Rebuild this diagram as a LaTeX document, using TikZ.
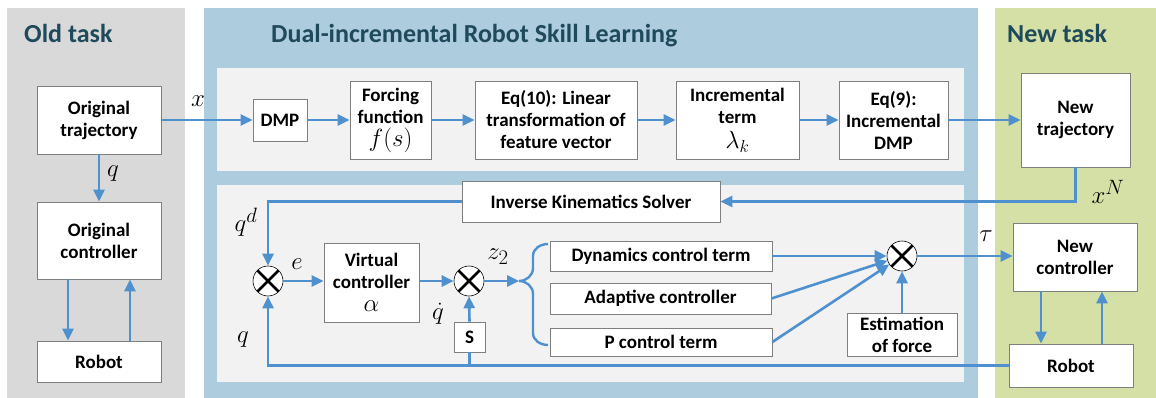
\documentclass[tikz,border=0pt]{standalone}
\usepackage{fontspec}
\setmainfont{Carlito}
\usetikzlibrary{arrows.meta}
\definecolor{oldbg}{HTML}{D9D9D9}
\definecolor{bluebg}{HTML}{ADCDDF}
\definecolor{greenbg}{HTML}{D4E0A5}
\definecolor{innerbg}{HTML}{F2F2F2}
\definecolor{arrowc}{HTML}{4F90CF}
\definecolor{boxline}{HTML}{7F7F7F}
\definecolor{headc}{HTML}{1F4A5B}
\begin{document}
\begin{tikzpicture}[x=1pt,y=-1pt,
  box/.style={draw=boxline, fill=white, line width=0.8pt, align=center, font=\fontsize{19}{22}\selectfont\bfseries, inner sep=0pt},
  sum/.style={circle, draw=black, fill=white, line width=0.6pt, minimum size=30pt, inner sep=0pt,
    path picture={\draw[line width=2.6pt]
      ([shift={(-11pt,-11pt)}]path picture bounding box.center) -- ([shift={(11pt,11pt)}]path picture bounding box.center)
      ([shift={(-11pt,11pt)}]path picture bounding box.center) -- ([shift={(11pt,-11pt)}]path picture bounding box.center);}},
  flow/.style={draw=arrowc, line width=2.6pt, -{Triangle[length=12pt,width=11pt]}},
  plainline/.style={draw=arrowc, line width=2.6pt},
  lbl/.style={font=\fontsize{28}{32}\selectfont, inner sep=0pt},
  head/.style={font=\fontsize{26}{30}\selectfont\bfseries, text=headc, inner sep=0pt, anchor=base west}
]
\useasboundingbox (0,0) rectangle (1156,398);
\fill[white] (0,0) rectangle (1156,398);
% panels
\fill[oldbg] (7,8) rectangle (185,398);
\fill[bluebg] (204,8) rectangle (978,398);
\fill[greenbg] (995,8) rectangle (1156,398);
\fill[innerbg] (217,68) rectangle (964,171);
\fill[innerbg] (217,185) rectangle (964,382);
% headings
\node[head] (h1) at (24,43) {Old task};
\node[head] (h2) at (271,43) {Dual-incremental Robot Skill Learning};
\node[head] (h3) at (1007,43) {New task};
% old task boxes
\node[box, minimum width=124pt, minimum height=68pt] (otraj) at (99,120) {Original\\trajectory};
\node[box, minimum width=124pt, minimum height=77pt] (octrl) at (99,240.5) {Original\\controller};
\node[box, minimum width=124pt, minimum height=41pt] (orobot) at (99,361.5) {Robot};
% top row
\node[box, minimum width=54pt, minimum height=42pt] (dmp) at (280,120) {DMP};
\node[box, minimum width=81pt, minimum height=78pt] (force) at (390.5,120) {Forcing\\function\\[1pt]{\fontsize{24}{24}\selectfont$f(s)$}};
\node[box, minimum width=162pt, minimum height=78pt] (eq10) at (556,120) {Eq(10): Linear\\transformation of\\feature vector};
\node[box, minimum width=123pt, minimum height=78pt] (incr) at (737.5,120) {Incremental\\term\\[3pt]{\fontsize{26}{26}\selectfont$\lambda_k$}};
\node[box, minimum width=109pt, minimum height=78pt] (eq9) at (893.5,120) {Eq(9):\\Incremental\\DMP};
\node[box, minimum width=109pt, minimum height=94pt] (ntraj) at (1075.5,120) {New\\trajectory};
% bottom area
\node[box, minimum width=258pt, minimum height=41pt] (ik) at (591,201.5) {Inverse Kinematics Solver};
\node[sum] (sum1) at (268,281) {};
\node[box, minimum width=95pt, minimum height=79pt] (vc) at (371.5,282.5) {Virtual\\controller\\[1pt]{\fontsize{28}{28}\selectfont$\alpha$}};
\node[sum] (sum2) at (469,281) {};
\node[box, minimum width=31pt, minimum height=30pt] (sbox) at (469.5,337) {S};
\node[box, minimum width=222pt, minimum height=30pt] (dyn) at (661,256) {Dynamics control term};
\node[box, minimum width=221pt, minimum height=31pt] (adap) at (660.5,298.5) {Adaptive controller};
\node[box, minimum width=222pt, minimum height=28pt] (pct) at (661,342) {P control term};
\node[sum] (sum3) at (902,256) {};
\node[box, minimum width=110pt, minimum height=43pt] (est) at (902,334.5) {Estimation\\of force};
\node[box, minimum width=124pt, minimum height=68pt] (nctrl) at (1075,257) {New\\controller};
\node[box, minimum width=124pt, minimum height=43pt] (nrobot) at (1071,365.5) {Robot};
\coordinate (btip) at (519,281);
% connectors
\draw[flow] (otraj.east) -- (dmp.west);
\draw[flow] (otraj.south) -- (octrl.north);
\draw[flow] ([xshift=-31pt]octrl.south) -- ([xshift=-31pt]octrl.south |- orobot.north);
\draw[flow] ([xshift=31pt]octrl.south |- orobot.north) -- ([xshift=31pt]octrl.south);
\draw[flow] (dmp.east) -- (force.west);
\draw[flow] (force.east) -- (eq10.west);
\draw[flow] (eq10.east) -- (incr.west);
\draw[flow] (incr.east) -- (eq9.west);
\draw[flow] (eq9.east) -- (ntraj.west);
\draw[flow] (ntraj.south) |- (ik.east);
\draw[flow] (ik.west) -| (sum1.north);
\draw[flow] (sum1.east) -- (sum1.east -| vc.west);
\draw[flow] (sum2.west -| vc.east) -- (sum2.west);
\draw[flow] (sbox.north) -- (sum2.south);
\draw[flow] (sum2.east) -- (btip);
\draw[plainline, line width=2.4pt] (548,244) to[out=180,in=90] (533,256) -- (533,268) to[out=-90,in=0] (btip)
  to[out=0,in=90] (533,294) -- (533,333) to[out=-90,in=180] (548,345);
\draw[flow] (dyn.east) -- (sum3);
\draw[flow] (adap.east) -- (sum3);
\draw[flow] (pct.east) -- (sum3);
\draw[flow] (est.north) -- (sum3.south);
\draw[flow] (sum3.east) -- (sum3.east -| nctrl.west);
\draw[flow] ([xshift=-34pt]nctrl.south) -- ([xshift=-34pt]nctrl.south |- nrobot.north);
\draw[flow] ([xshift=27pt]nctrl.south |- nrobot.north) -- ([xshift=27pt]nctrl.south);
\draw[flow] (nrobot.west) -| (sum1.south);
\draw[plainline] (sbox.south) -- (sbox.south |- nrobot.west);
% labels
\node[lbl] (lx) at (198,101) {$x$};
\node[lbl] (lq1) at (113,174) {$q$};
\node[lbl] (lxn) at (1108,192) {$x^N$};
\node[lbl] (lqd) at (246,222) {$q^d$};
\node[lbl] (le) at (297,264) {$e$};
\node[lbl] (lqdot) at (438,314) {$\dot q$};
\node[lbl] (lz) at (498,257) {$z_2$};
\node[lbl] (lq2) at (243,340) {$q$};
\node[lbl] (ltau) at (986,236) {$\tau$};
\end{tikzpicture}
\end{document}
